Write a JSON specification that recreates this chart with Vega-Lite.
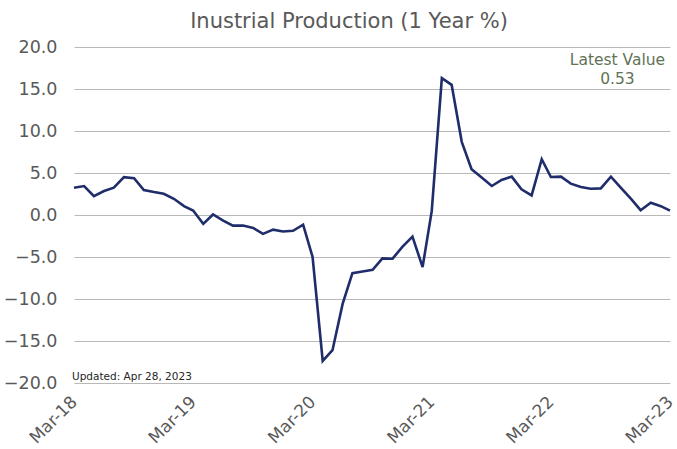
{
  "$schema": "https://vega.github.io/schema/vega-lite/v6.json",
  "width": 596,
  "height": 336,
  "autosize": "none",
  "padding": {"left": 74, "top": 47, "right": 7, "bottom": 66},
  "background": "white",
  "config": {
    "view": {"stroke": null},
    "font": "DejaVu Sans"
  },
  "title": {
    "text": "Inustrial Production (1 Year %)",
    "fontSize": 21,
    "fontWeight": "normal",
    "color": "#595959",
    "anchor": "middle",
    "frame": "group",
    "dx": -23,
    "offset": 6
  },
  "layer": [
    {
      "data": {
        "values": [
          {"date": "2018-03-01", "value": 3.25},
          {"date": "2018-04-01", "value": 3.45},
          {"date": "2018-05-01", "value": 2.25},
          {"date": "2018-06-01", "value": 2.85},
          {"date": "2018-07-01", "value": 3.25},
          {"date": "2018-08-01", "value": 4.5},
          {"date": "2018-09-01", "value": 4.37},
          {"date": "2018-10-01", "value": 2.97},
          {"date": "2018-11-01", "value": 2.73},
          {"date": "2018-12-01", "value": 2.53},
          {"date": "2019-01-01", "value": 1.93},
          {"date": "2019-02-01", "value": 1.06},
          {"date": "2019-03-01", "value": 0.54},
          {"date": "2019-04-01", "value": -1.06},
          {"date": "2019-05-01", "value": 0.06},
          {"date": "2019-06-01", "value": -0.66},
          {"date": "2019-07-01", "value": -1.26},
          {"date": "2019-08-01", "value": -1.26},
          {"date": "2019-09-01", "value": -1.54},
          {"date": "2019-10-01", "value": -2.25},
          {"date": "2019-11-01", "value": -1.74},
          {"date": "2019-12-01", "value": -1.97},
          {"date": "2020-01-01", "value": -1.88},
          {"date": "2020-02-01", "value": -1.16},
          {"date": "2020-03-01", "value": -5.0},
          {"date": "2020-04-01", "value": -17.37},
          {"date": "2020-05-01", "value": -16.09},
          {"date": "2020-06-01", "value": -10.59},
          {"date": "2020-07-01", "value": -6.92},
          {"date": "2020-08-01", "value": -6.72},
          {"date": "2020-09-01", "value": -6.52},
          {"date": "2020-10-01", "value": -5.16},
          {"date": "2020-11-01", "value": -5.2},
          {"date": "2020-12-01", "value": -3.8},
          {"date": "2021-01-01", "value": -2.57},
          {"date": "2021-02-01", "value": -6.2},
          {"date": "2021-03-01", "value": 0.45},
          {"date": "2021-04-01", "value": 16.3},
          {"date": "2021-05-01", "value": 15.49},
          {"date": "2021-06-01", "value": 8.71},
          {"date": "2021-07-01", "value": 5.44},
          {"date": "2021-08-01", "value": 4.45},
          {"date": "2021-09-01", "value": 3.45},
          {"date": "2021-10-01", "value": 4.17},
          {"date": "2021-11-01", "value": 4.57},
          {"date": "2021-12-01", "value": 3.05},
          {"date": "2022-01-01", "value": 2.33},
          {"date": "2022-02-01", "value": 6.64},
          {"date": "2022-03-01", "value": 4.52},
          {"date": "2022-04-01", "value": 4.57},
          {"date": "2022-05-01", "value": 3.73},
          {"date": "2022-06-01", "value": 3.33},
          {"date": "2022-07-01", "value": 3.13},
          {"date": "2022-08-01", "value": 3.17},
          {"date": "2022-09-01", "value": 4.57},
          {"date": "2022-10-01", "value": 3.25},
          {"date": "2022-11-01", "value": 1.94},
          {"date": "2022-12-01", "value": 0.57},
          {"date": "2023-01-01", "value": 1.46},
          {"date": "2023-02-01", "value": 1.05},
          {"date": "2023-03-01", "value": 0.53}
        ]
      },
      "mark": {"type": "line", "color": "#1f2d6b", "strokeWidth": 2.6, "strokeJoin": "miter"},
      "encoding": {
        "x": {
          "field": "date",
          "type": "temporal",
          "scale": {"type": "utc", "domain": [{"year": 2018, "month": 3, "date": 1, "utc": true}, {"year": 2023, "month": 3, "date": 1, "utc": true}]},
          "axis": {
            "title": null,
            "labelExpr": "utcFormat(datum.value, '%b-%y')",
            "values": [
              {"year": 2018, "month": 3, "date": 1, "utc": true},
              {"year": 2019, "month": 3, "date": 1, "utc": true},
              {"year": 2020, "month": 3, "date": 1, "utc": true},
              {"year": 2021, "month": 3, "date": 1, "utc": true},
              {"year": 2022, "month": 3, "date": 1, "utc": true},
              {"year": 2023, "month": 3, "date": 1, "utc": true}
            ],
            "labelAngle": -45,
            "labelAlign": "right",
            "labelBaseline": "middle",
            "labelFontSize": 17,
            "labelColor": "#595959",
            "labelPadding": 16,
            "ticks": false,
            "domain": false,
            "grid": false,
            "labelOverlap": false,
            "labelFlush": false,
            "labelBound": false
          }
        },
        "y": {
          "field": "value",
          "type": "quantitative",
          "scale": {"domain": [-20, 20], "nice": false, "zero": false},
          "axis": {
            "title": null,
            "values": [-20, -15, -10, -5, 0, 5, 10, 15, 20],
            "format": ".1f",
            "labelFontSize": 17.5,
            "labelColor": "#595959",
            "labelPadding": 17,
            "ticks": false,
            "domain": false,
            "grid": true,
            "gridColor": "#b8b8b8",
            "gridWidth": 1
          }
        }
      }
    },
    {
      "data": {"values": [{"label": "Latest Value"}]},
      "mark": {"type": "text", "fontSize": 15.5, "color": "#5f7356", "align": "center", "baseline": "middle"},
      "encoding": {
        "text": {"field": "label"},
        "x": {"datum": {"year": 2022, "month": 9, "date": 21, "utc": true}, "type": "temporal"},
        "y": {"datum": 18.4, "type": "quantitative"}
      }
    },
    {
      "data": {"values": [{"label": "0.53"}]},
      "mark": {"type": "text", "fontSize": 15.5, "color": "#5f7356", "align": "center", "baseline": "middle"},
      "encoding": {
        "text": {"field": "label"},
        "x": {"datum": {"year": 2022, "month": 9, "date": 21, "utc": true}, "type": "temporal"},
        "y": {"datum": 16.2, "type": "quantitative"}
      }
    },
    {
      "data": {"values": [{"label": "Updated: Apr 28, 2023"}]},
      "mark": {"type": "text", "fontSize": 10.5, "color": "#262626", "align": "left", "baseline": "middle", "dx": -2},
      "encoding": {
        "text": {"field": "label"},
        "x": {"datum": {"year": 2018, "month": 3, "date": 1, "utc": true}, "type": "temporal"},
        "y": {"datum": -19.3, "type": "quantitative"}
      }
    }
  ]
}
